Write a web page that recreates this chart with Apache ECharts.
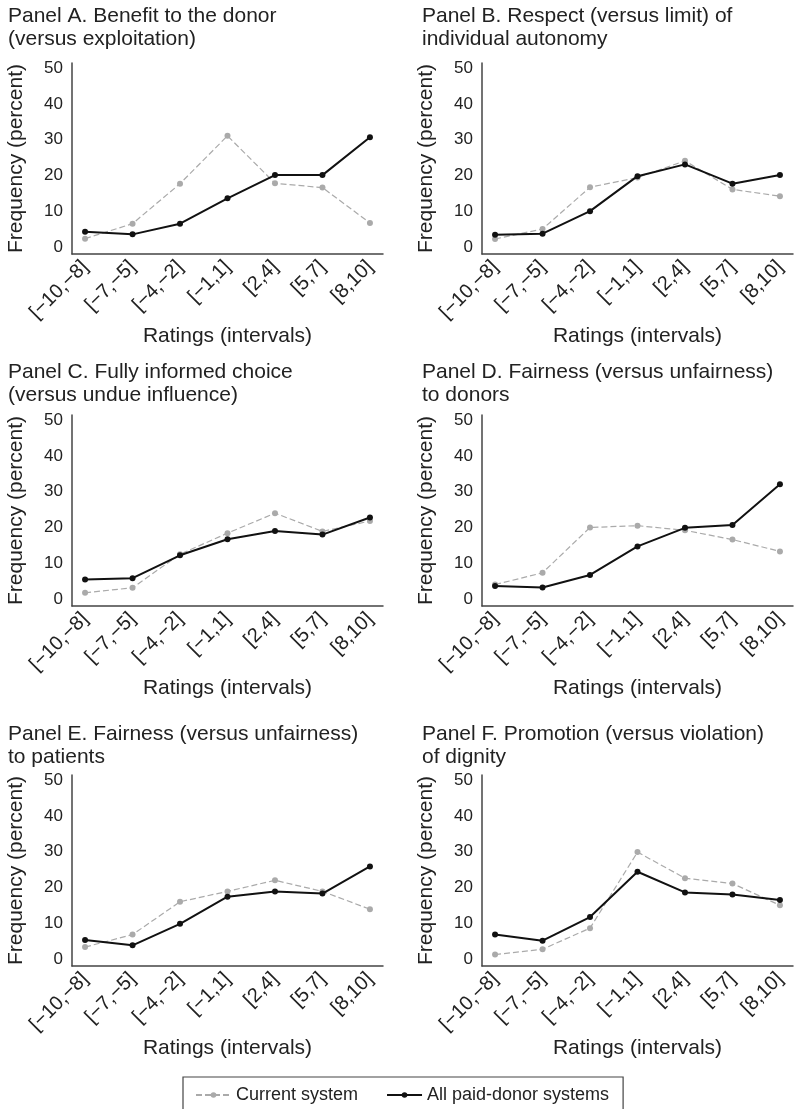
<!DOCTYPE html>
<html lang="en">
  <head>
    <meta charset="UTF-8" />
    <title>Ratings of paid-donor systems</title>
    <style>
      body {
        margin: 0;
        padding: 0;
        background-color: #fff;
      }
      #container {
        width: 795px;
        height: 1109px;
      }
    </style>
  </head>
  <body>
    <div id="container"></div>

    <script src="https://cdn.jsdelivr.net/npm/echarts@6/dist/echarts.min.js"></script>
    <script>
      // rating intervals on the x axis
      const categories = ["[\u221210,\u22128]", "[\u22127,\u22125]", "[\u22124,\u22122]", "[\u22121,1]", "[2,4]", "[5,7]", "[8,10]"];
      const yTicks = [0, 10, 20, 30, 40, 50];

      const panelTitles = [
        "Panel A. Benefit to the donor\n(versus exploitation)",
        "Panel B. Respect (versus limit) of\nindividual autonomy",
        "Panel C. Fully informed choice\n(versus undue influence)",
        "Panel D. Fairness (versus unfairness)\nto donors",
        "Panel E. Fairness (versus unfairness)\nto patients",
        "Panel F. Promotion (versus violation)\nof dignity",
      ];

      // frequency (percent), one array per panel
      const currentA = [2.3, 6.5, 17.7, 31.1, 17.8, 16.6, 6.7];
      const paidA = [4.2, 3.5, 6.5, 13.6, 20.1, 20.1, 30.7];
      const currentB = [2.2, 5.0, 16.7, 19.4, 24.1, 16.1, 14.2];
      const paidB = [3.4, 3.7, 10.0, 19.8, 23.1, 17.7, 20.1];
      const currentC = [1.7, 3.1, 12.5, 18.4, 24.0, 18.9, 21.8];
      const paidC = [5.4, 5.8, 12.2, 16.7, 19.0, 18.0, 22.8];
      const currentD = [4.0, 7.3, 20.0, 20.5, 19.2, 16.6, 13.3];
      const paidD = [3.6, 3.2, 6.7, 14.7, 19.9, 20.7, 32.1];
      const currentE = [3.3, 6.8, 16.0, 18.9, 22.0, 18.9, 13.9];
      const paidE = [5.3, 3.8, 9.8, 17.4, 18.9, 18.3, 25.9];
      const currentF = [1.2, 2.7, 8.6, 29.9, 22.6, 21.1, 15.0];
      const paidF = [6.8, 5.1, 11.7, 24.4, 18.6, 18.0, 16.5];

      const currentSeries = [currentA, currentB, currentC, currentD, currentE, currentF];
      const paidSeries = [paidA, paidB, paidC, paidD, paidE, paidF];

      const font = "'Liberation Sans', Arial, Helvetica, sans-serif";
      const colLeft = [72, 482];
      const rowTop = [63, 415, 775];
      const rowTitleTop = [5, 361, 723];
      const titleLeft = [8, 422];
      const gridW = 311;
      const gridH = 191;

      const chart = echarts.init(document.getElementById("container"));

      const grids = [];
      const xAxes = [];
      const yAxes = [];
      const titles = [];
      const series = [];

      const toPoints = (arr) => arr.map((v, i) => [i, v]);

      for (let p = 0; p < 6; p++) {
        const col = p % 2;
        const row = Math.floor(p / 2);
        grids.push({
          left: colLeft[col],
          top: rowTop[row],
          width: gridW,
          height: gridH,
          containLabel: false,
          outerBoundsMode: "none",
        });
        titles.push({
          text: panelTitles[p],
          left: titleLeft[col],
          top: rowTitleTop[row],
          padding: 0,
          textStyle: {
            fontFamily: font,
            fontSize: 21,
            fontWeight: "normal",
            color: "#222",
            lineHeight: 23,
          },
        });
        xAxes.push({
          type: "value",
          gridIndex: p,
          min: -0.275,
          max: 6.275,
          name: "Ratings (intervals)",
          nameLocation: "middle",
          nameGap: 72,
          nameTextStyle: { fontFamily: font, fontSize: 21, color: "#222" },
          axisLine: { show: true, onZero: false, lineStyle: { color: "#444", width: 1.5 } },
          axisTick: { show: false },
          splitLine: { show: false },
          axisLabel: {
            customValues: [0, 1, 2, 3, 4, 5, 6],
            formatter: (v) => categories[v],
            rotate: 45,
            margin: 10,
            fontFamily: font,
            fontSize: 20,
            color: "#222",
          },
        });
        yAxes.push({
          type: "value",
          gridIndex: p,
          min: -2,
          max: 51.5,
          name: "Frequency (percent)",
          nameLocation: "middle",
          nameGap: 45,
          nameTextStyle: { fontFamily: font, fontSize: 21, color: "#222" },
          axisLine: { show: true, onZero: false, lineStyle: { color: "#444", width: 1.5 } },
          axisTick: { show: false },
          splitLine: { show: false },
          axisLabel: {
            customValues: yTicks,
            margin: 9,
            fontFamily: font,
            fontSize: 17,
            color: "#222",
          },
        });
        series.push({
          name: "Current system",
          type: "line",
          xAxisIndex: p,
          yAxisIndex: p,
          data: toPoints(currentSeries[p]),
          symbol: "circle",
          symbolSize: 6,
          itemStyle: { color: "#aaa" },
          lineStyle: { color: "#aaa", width: 1.2, type: [6, 3] },
          z: 2,
        });
        series.push({
          name: "All paid-donor systems",
          type: "line",
          xAxisIndex: p,
          yAxisIndex: p,
          data: toPoints(paidSeries[p]),
          symbol: "circle",
          symbolSize: 6,
          itemStyle: { color: "#111" },
          lineStyle: { color: "#111", width: 2 },
          z: 3,
        });
      }

      const option = {
        animation: false,
        textStyle: { fontFamily: font },
        title: titles,
        grid: grids,
        xAxis: xAxes,
        yAxis: yAxes,
        legend: {
          data: ["Current system", "All paid-donor systems"],
          left: 183,
          top: 1077,
          orient: "horizontal",
          padding: [9, 14, 10, 12],
          itemGap: 28,
          itemWidth: 35,
          itemHeight: 7,
          borderColor: "#444",
          borderWidth: 1.2,
          borderRadius: 0,
          textStyle: { fontFamily: font, fontSize: 18, color: "#222" },
        },
        series: series,
      };

      chart.setOption(option);
    </script>
  </body>
</html>
